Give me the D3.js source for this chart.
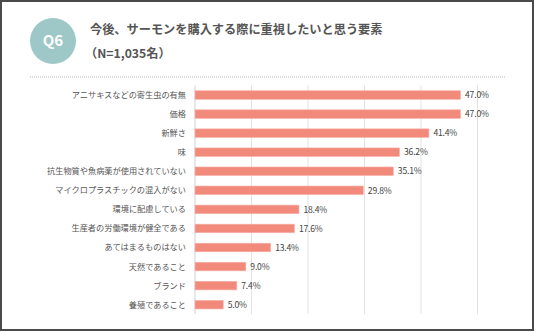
<!DOCTYPE html>
<html><head><meta charset="utf-8">
<script src="https://cdn.jsdelivr.net/npm/d3@7/dist/d3.min.js"></script>
<style>
body{margin:0;background:#fff;}
svg{display:block;}
text{font-family:"Noto Sans CJK JP","Noto Sans",sans-serif;}
</style></head>
<body>
<svg id="c" width="536" height="332"></svg>
<script>
const categories = ["アニサキスなどの寄生虫の有無","価格","新鮮さ","味","抗生物質や魚病薬が使用されていない","マイクロプラスチックの混入がない","環境に配慮している","生産者の労働環境が健全である","あてはまるものはない","天然であること","ブランド","養殖であること"];
const values = [47.0,47.0,41.4,36.2,35.1,29.8,18.4,17.6,13.4,9.0,7.4,5.0];
const gridTicks = [0,10,20,30,40,50];
const titleText = "今後、サーモンを購入する際に重視したいと思う要素";
const subText = "（N=1,035名）";
const badgeText = "Q6";

const svg = d3.select("#c");
svg.append("rect").attr("x",1).attr("y",1).attr("width",532).attr("height",329)
  .attr("fill","#fff").attr("stroke","#4a4a4a").attr("stroke-width",2);

svg.append("circle").attr("cx",53).attr("cy",41).attr("r",23).attr("fill","#9ec8c8");
svg.append("text").attr("x",53).attr("y",46).attr("text-anchor","middle")
  .attr("fill","#fff").attr("font-size",15).attr("font-weight",700).text(badgeText);
svg.append("text").attr("x",90).attr("y",33.5).attr("fill","#555")
  .attr("font-size",12.2).attr("font-weight",700).text(titleText);
svg.append("text").attr("x",85).attr("y",57.5).attr("fill","#555")
  .attr("font-size",12.2).attr("font-weight",700).text(subText);
svg.append("line").attr("x1",30).attr("x2",506).attr("y1",77).attr("y2",77)
  .attr("stroke","#bbb").attr("stroke-width",1).attr("stroke-dasharray","1,1");

const x = d3.scaleLinear().domain([0,50]).range([195,477.5]);
const y = d3.scaleBand().domain(categories).range([85.5,314.2]).paddingInner(0.55).paddingOuter(0.275);

svg.append("g").selectAll("line").data(gridTicks).join("line")
  .attr("x1",d=>x(d)).attr("x2",d=>x(d)).attr("y1",85.5).attr("y2",314)
  .attr("stroke",d=>d===0?"#d0d0d0":"#e2e2e2").attr("stroke-width",1);

svg.append("g").selectAll("rect").data(values).join("rect")
  .attr("x",x(0)).attr("y",(d,i)=>y(categories[i]))
  .attr("width",d=>x(d)-x(0)).attr("height",y.bandwidth())
  .attr("fill","#f28a7c").attr("stroke","#f7b3a9").attr("stroke-width",0.6);

svg.append("g").selectAll("text").data(values).join("text")
  .attr("x",d=>x(d)+4.5).attr("y",(d,i)=>y(categories[i])+y.bandwidth()/2+3.2)
  .attr("fill","#444").attr("font-size",8.6).attr("letter-spacing",-0.2)
  .text(d=>d.toFixed(1)+"%");

svg.append("g").selectAll("text").data(categories).join("text")
  .attr("x",186).attr("y",d=>y(d)+y.bandwidth()/2+3)
  .attr("text-anchor","end").attr("fill","#555").attr("font-size",8.2)
  .text(d=>d);
</script>
</body></html>
